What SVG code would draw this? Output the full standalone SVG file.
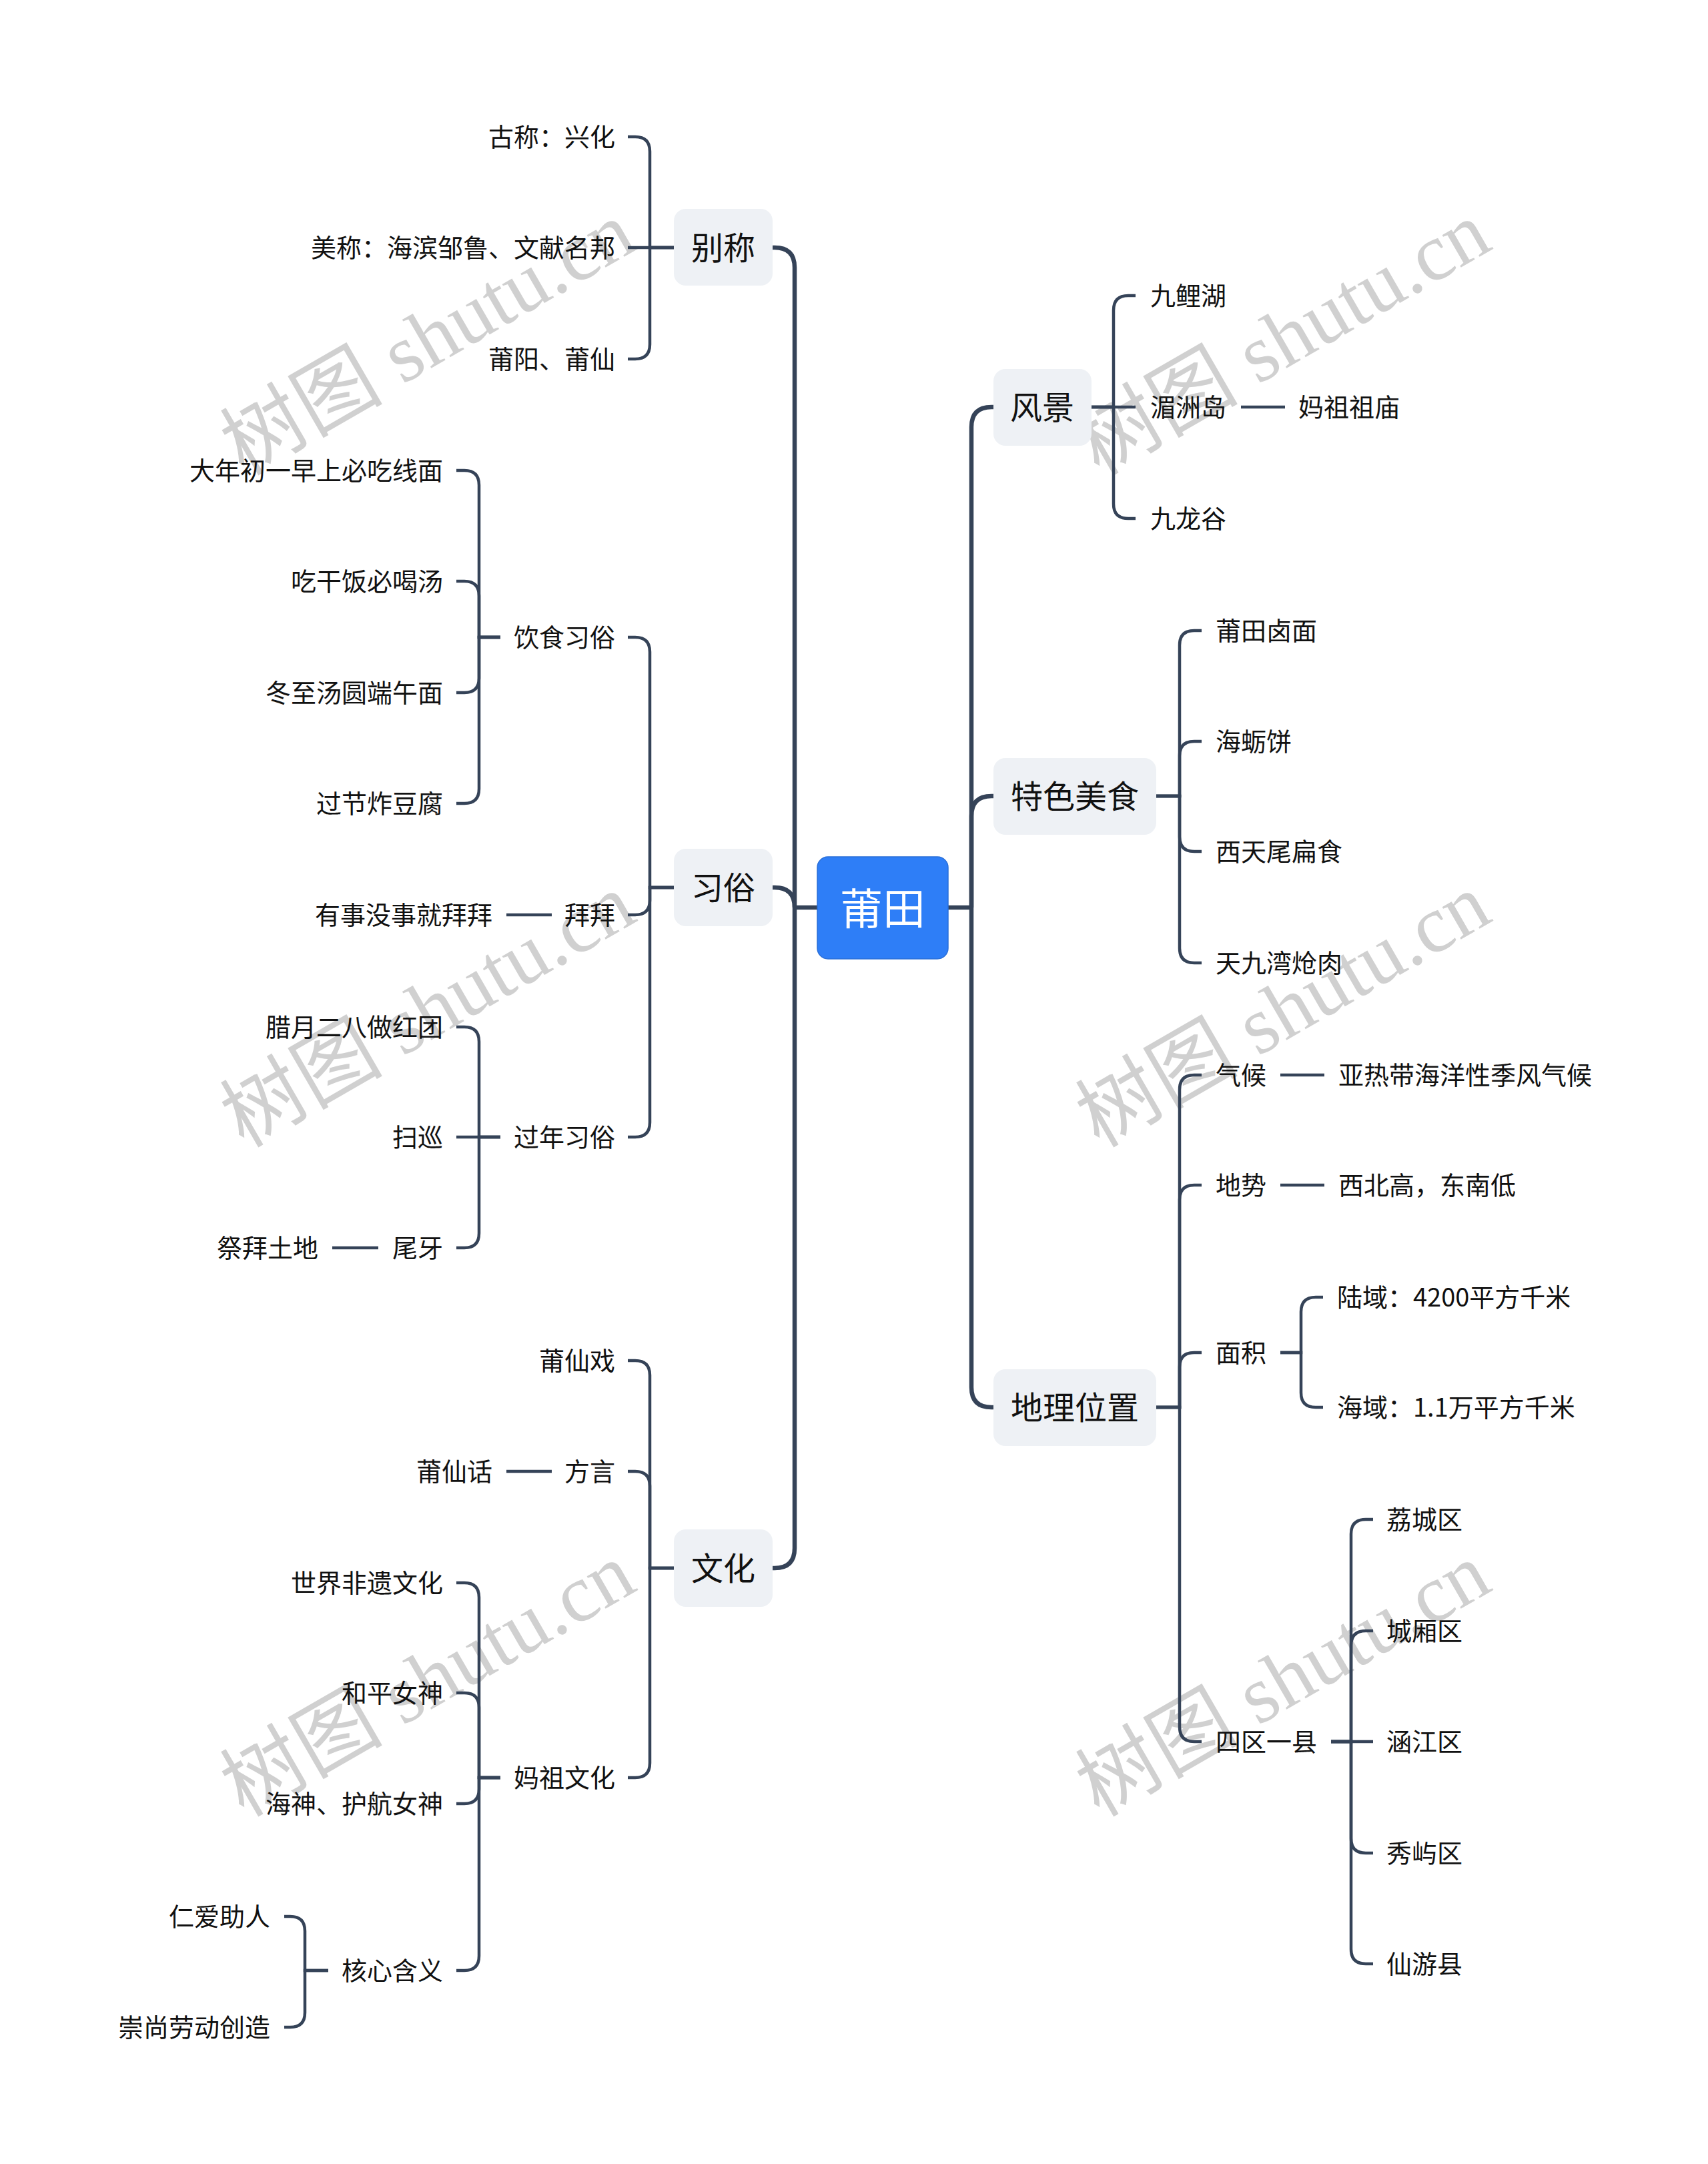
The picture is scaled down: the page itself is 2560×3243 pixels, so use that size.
<svg xmlns="http://www.w3.org/2000/svg" width="2560" height="3243" viewBox="0 0 2560 3243">
<style>
.wm{font-family:"Liberation Serif","Noto Sans CJK SC",serif;font-size:122px;fill:#d0d0d0}
.c1{stroke:#354358;stroke-width:6.5;fill:none}
.c2{stroke:#354358;stroke-width:4.5;fill:none}
.t{font-family:"Noto Sans CJK SC","Noto Sans",sans-serif;fill:#111;dominant-baseline:central;transform:translateY(-3px)}
.l2{font-size:38px}
.l1{font-size:48px}
.e{text-anchor:end}
.box{fill:#eef1f5}
</style>
<rect width="2560" height="3243" fill="#ffffff"/>
<g id="watermarks">
<text class="wm" text-anchor="middle" dominant-baseline="central" transform="translate(641,507) rotate(-30)">树图 shutu.cn</text>
<text class="wm" text-anchor="middle" dominant-baseline="central" transform="translate(1923,507) rotate(-30)">树图 shutu.cn</text>
<text class="wm" text-anchor="middle" dominant-baseline="central" transform="translate(641,1514) rotate(-30)">树图 shutu.cn</text>
<text class="wm" text-anchor="middle" dominant-baseline="central" transform="translate(1923,1514) rotate(-30)">树图 shutu.cn</text>
<text class="wm" text-anchor="middle" dominant-baseline="central" transform="translate(641,2517) rotate(-30)">树图 shutu.cn</text>
<text class="wm" text-anchor="middle" dominant-baseline="central" transform="translate(1923,2517) rotate(-30)">树图 shutu.cn</text>
</g>
<g id="connectors">
<path class="c1" d="M1225,1360 H1191"/>
<path class="c1" d="M1191,1360 V401 Q1191,371 1161,371 H1158"/>
<path class="c1" d="M1191,1360 Q1191,1330 1161,1330 H1158"/>
<path class="c1" d="M1191,1360 V2320 Q1191,2350 1161,2350 H1158"/>
<path class="c1" d="M1421,1360 H1456"/>
<path class="c1" d="M1456,1360 V640 Q1456,610 1486,610 H1489"/>
<path class="c1" d="M1456,1360 V1223 Q1456,1193 1486,1193 H1489"/>
<path class="c1" d="M1456,1360 V2079 Q1456,2109 1486,2109 H1489"/>
<path class="c2" d="M1010,371 H974 V227 Q974,205 952,205 H941"/>
<path class="c2" d="M1010,371 H941"/>
<path class="c2" d="M1010,371 H974 V516 Q974,538 952,538 H941"/>
<path class="c2" d="M1010,1330 H974 V977 Q974,955 952,955 H941"/>
<path class="c2" d="M1010,1330 H974 V1349 Q974,1371 952,1371 H941"/>
<path class="c2" d="M1010,1330 H974 V1682 Q974,1704 952,1704 H941"/>
<path class="c2" d="M750,955 H718 V727 Q718,705 696,705 H684"/>
<path class="c2" d="M750,955 H718 V893 Q718,871 696,871 H684"/>
<path class="c2" d="M750,955 H718 V1016 Q718,1038 696,1038 H684"/>
<path class="c2" d="M750,955 H718 V1182 Q718,1204 696,1204 H684"/>
<path class="c2" d="M827,1371 H759"/>
<path class="c2" d="M750,1704 H718 V1561 Q718,1539 696,1539 H684"/>
<path class="c2" d="M750,1704 H684"/>
<path class="c2" d="M750,1704 H718 V1848 Q718,1870 696,1870 H684"/>
<path class="c2" d="M567,1870 H498"/>
<path class="c2" d="M1010,2350 H974 V2061 Q974,2039 952,2039 H941"/>
<path class="c2" d="M1010,2350 H974 V2227 Q974,2205 952,2205 H941"/>
<path class="c2" d="M1010,2350 H974 V2642 Q974,2664 952,2664 H941"/>
<path class="c2" d="M827,2205 H759"/>
<path class="c2" d="M750,2664 H718 V2394 Q718,2372 696,2372 H684"/>
<path class="c2" d="M750,2664 H718 V2559 Q718,2537 696,2537 H684"/>
<path class="c2" d="M750,2664 H718 V2681 Q718,2703 696,2703 H684"/>
<path class="c2" d="M750,2664 H718 V2931 Q718,2953 696,2953 H684"/>
<path class="c2" d="M492,2953 H457 V2894 Q457,2872 435,2872 H426"/>
<path class="c2" d="M492,2953 H457 V3016 Q457,3038 435,3038 H426"/>
<path class="c2" d="M1636,610 H1669 V465 Q1669,443 1691,443 H1702"/>
<path class="c2" d="M1636,610 H1702"/>
<path class="c2" d="M1636,610 H1669 V755 Q1669,777 1691,777 H1702"/>
<path class="c2" d="M1860,610 H1926"/>
<path class="c2" d="M1733,1193 H1768 V967 Q1768,945 1790,945 H1801"/>
<path class="c2" d="M1733,1193 H1768 V1133 Q1768,1111 1790,1111 H1801"/>
<path class="c2" d="M1733,1193 H1768 V1254 Q1768,1276 1790,1276 H1801"/>
<path class="c2" d="M1733,1193 H1768 V1421 Q1768,1443 1790,1443 H1801"/>
<path class="c2" d="M1733,2109 H1768 V1633 Q1768,1611 1790,1611 H1801"/>
<path class="c2" d="M1733,2109 H1768 V1798 Q1768,1776 1790,1776 H1801"/>
<path class="c2" d="M1733,2109 H1768 V2049 Q1768,2027 1790,2027 H1801"/>
<path class="c2" d="M1733,2109 H1768 V2588 Q1768,2610 1790,2610 H1801"/>
<path class="c2" d="M1919,1611 H1985"/>
<path class="c2" d="M1919,1776 H1985"/>
<path class="c2" d="M1919,2027 H1950 V1966 Q1950,1944 1972,1944 H1983"/>
<path class="c2" d="M1919,2027 H1950 V2087 Q1950,2109 1972,2109 H1983"/>
<path class="c2" d="M1995,2610 H2025 V2299 Q2025,2277 2047,2277 H2058"/>
<path class="c2" d="M1995,2610 H2025 V2466 Q2025,2444 2047,2444 H2058"/>
<path class="c2" d="M1995,2610 H2058"/>
<path class="c2" d="M1995,2610 H2025 V2755 Q2025,2777 2047,2777 H2058"/>
<path class="c2" d="M1995,2610 H2025 V2921 Q2025,2943 2047,2943 H2058"/>
</g>
<g id="root">
<rect x="1225" y="1284" width="196" height="153" rx="16" fill="#2e7ef7" stroke="#2a6fd8" stroke-width="1.5"/>
<text class="t" x="1323" y="1360" text-anchor="middle" font-size="64" style="fill:#ffffff">莆田</text>
</g>
<g id="n-biecheng"><rect class="box" x="1010" y="313" width="148" height="115" rx="18"/><text class="t l1" x="1084" y="371" text-anchor="middle">别称</text></g>
<g id="n-xisu"><rect class="box" x="1010" y="1272" width="148" height="116" rx="18"/><text class="t l1" x="1084" y="1330" text-anchor="middle">习俗</text></g>
<g id="n-wenhua"><rect class="box" x="1010" y="2292" width="148" height="116" rx="18"/><text class="t l1" x="1084" y="2350" text-anchor="middle">文化</text></g>
<g id="n-fengjing"><rect class="box" x="1489" y="553" width="147" height="115" rx="18"/><text class="t l1" x="1562" y="610" text-anchor="middle">风景</text></g>
<g id="n-meishi"><rect class="box" x="1489" y="1136" width="244" height="115" rx="18"/><text class="t l1" x="1611" y="1193" text-anchor="middle">特色美食</text></g>
<g id="n-dili"><rect class="box" x="1489" y="2052" width="244" height="115" rx="18"/><text class="t l1" x="1611" y="2109" text-anchor="middle">地理位置</text></g>
<g id="n-guchen"><text class="t l2 e" x="922" y="205">古称：兴化</text></g>
<g id="n-meichen"><text class="t l2 e" x="922" y="371">美称：海滨邹鲁、文献名邦</text></g>
<g id="n-puyang"><text class="t l2 e" x="922" y="538">莆阳、莆仙</text></g>
<g id="n-yinshi"><text class="t l2 e" x="922" y="955">饮食习俗</text></g>
<g id="n-d1"><text class="t l2 e" x="664" y="705">大年初一早上必吃线面</text></g>
<g id="n-d2"><text class="t l2 e" x="664" y="871">吃干饭必喝汤</text></g>
<g id="n-d3"><text class="t l2 e" x="664" y="1038">冬至汤圆端午面</text></g>
<g id="n-d4"><text class="t l2 e" x="664" y="1204">过节炸豆腐</text></g>
<g id="n-baibai"><text class="t l2 e" x="922" y="1371">拜拜</text></g>
<g id="n-baibai2"><text class="t l2 e" x="738" y="1371">有事没事就拜拜</text></g>
<g id="n-guonian"><text class="t l2 e" x="922" y="1704">过年习俗</text></g>
<g id="n-g1"><text class="t l2 e" x="664" y="1539">腊月二八做红团</text></g>
<g id="n-g2"><text class="t l2 e" x="664" y="1704">扫巡</text></g>
<g id="n-g3"><text class="t l2 e" x="664" y="1870">尾牙</text></g>
<g id="n-g3a"><text class="t l2 e" x="477" y="1870">祭拜土地</text></g>
<g id="n-puxianxi"><text class="t l2 e" x="922" y="2039">莆仙戏</text></g>
<g id="n-fangyan"><text class="t l2 e" x="922" y="2205">方言</text></g>
<g id="n-puxianhua"><text class="t l2 e" x="738" y="2205">莆仙话</text></g>
<g id="n-mazu"><text class="t l2 e" x="922" y="2664">妈祖文化</text></g>
<g id="n-m1"><text class="t l2 e" x="664" y="2372">世界非遗文化</text></g>
<g id="n-m2"><text class="t l2 e" x="664" y="2537">和平女神</text></g>
<g id="n-m3"><text class="t l2 e" x="664" y="2703">海神、护航女神</text></g>
<g id="n-m4"><text class="t l2 e" x="664" y="2953">核心含义</text></g>
<g id="n-m4a"><text class="t l2 e" x="405" y="2872">仁爱助人</text></g>
<g id="n-m4b"><text class="t l2 e" x="405" y="3038">崇尚劳动创造</text></g>
<g id="n-jiuli"><text class="t l2" x="1724" y="443">九鲤湖</text></g>
<g id="n-meizhou"><text class="t l2" x="1724" y="610">湄洲岛</text></g>
<g id="n-mazumiao"><text class="t l2" x="1946" y="610">妈祖祖庙</text></g>
<g id="n-jiulong"><text class="t l2" x="1724" y="777">九龙谷</text></g>
<g id="n-s1"><text class="t l2" x="1822" y="945">莆田卤面</text></g>
<g id="n-s2"><text class="t l2" x="1822" y="1111">海蛎饼</text></g>
<g id="n-s3"><text class="t l2" x="1822" y="1276">西天尾扁食</text></g>
<g id="n-s4"><text class="t l2" x="1822" y="1443">天九湾炝肉</text></g>
<g id="n-qihou"><text class="t l2" x="1822" y="1611">气候</text></g>
<g id="n-qihou2"><text class="t l2" x="2006" y="1611">亚热带海洋性季风气候</text></g>
<g id="n-dishi"><text class="t l2" x="1822" y="1776">地势</text></g>
<g id="n-dishi2"><text class="t l2" x="2006" y="1776">西北高，东南低</text></g>
<g id="n-mianji"><text class="t l2" x="1822" y="2027">面积</text></g>
<g id="n-luyu"><text class="t l2" x="2004" y="1944">陆域：4200平方千米</text></g>
<g id="n-haiyu"><text class="t l2" x="2004" y="2109">海域：1.1万平方千米</text></g>
<g id="n-siqu"><text class="t l2" x="1822" y="2610">四区一县</text></g>
<g id="n-q1"><text class="t l2" x="2078" y="2277">荔城区</text></g>
<g id="n-q2"><text class="t l2" x="2078" y="2444">城厢区</text></g>
<g id="n-q3"><text class="t l2" x="2078" y="2610">涵江区</text></g>
<g id="n-q4"><text class="t l2" x="2078" y="2777">秀屿区</text></g>
<g id="n-q5"><text class="t l2" x="2078" y="2943">仙游县</text></g>
</svg>
